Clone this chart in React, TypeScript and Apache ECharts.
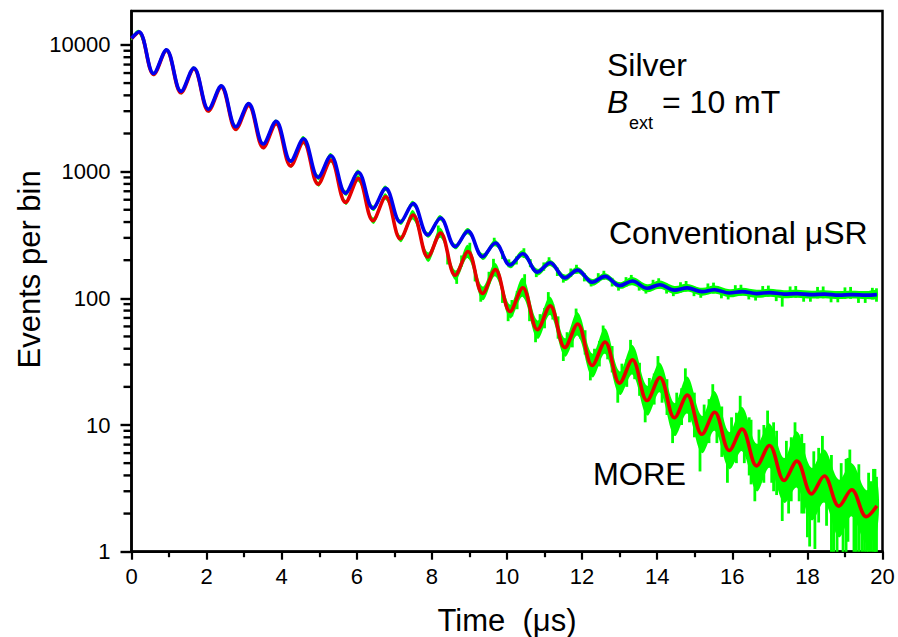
import { useEffect, useRef } from "react";
import * as echarts from "echarts";

// Times (µs) of the fitted curves: start, then alternating maxima / minima, then the last bin
const fitTimes = [
  0, 0.2, 0.59, 0.93, 1.32, 1.66, 2.05, 2.39, 2.78, 3.12, 3.51, 3.85, 4.24, 4.58, 4.97, 5.31,
  5.7, 6.04, 6.43, 6.77, 7.16, 7.5, 7.89, 8.23, 8.62, 8.96, 9.35, 9.69, 10.08, 10.42, 10.81,
  11.15, 11.54, 11.88, 12.27, 12.61, 13.0, 13.34, 13.73, 14.07, 14.46, 14.8, 15.19, 15.53,
  15.92, 16.26, 16.65, 16.99, 17.38, 17.72, 18.11, 18.45, 18.84, 19.18, 19.57, 19.85,
];

// Conventional µSR fit (events per bin)
const conventionalFit = [
  11300, 12700, 5950, 9140, 4300, 6580, 3110, 4750, 2260, 3440, 1650, 2500, 1210, 1820, 901,
  1335, 676, 988, 514, 738, 399, 559, 316, 431, 256, 339, 213, 273, 183, 225, 161, 191, 145,
  167, 134, 149, 126, 137, 120, 128, 116, 121, 113, 117, 110, 113, 109, 111, 108, 109, 107,
  108, 106, 107, 106, 107,
];

// MORE fit (events per bin)
const moreFit = [
  11200, 12590, 5840, 9030, 4190, 6480, 3006, 4648, 2157, 3334, 1547, 2392, 1110, 1716, 797,
  1231, 572, 883, 410, 634, 295, 455, 212, 327, 152, 234, 109.3, 168.5, 78.6, 121.1, 56.6,
  87.1, 40.9, 62.7, 29.5, 45.2, 21.4, 32.7, 15.6, 23.7, 11.4, 17.2, 8.45, 12.6, 6.3, 9.28,
  4.76, 6.89, 3.65, 5.19, 2.86, 3.96, 2.29, 3.08, 1.89, 2.3,
];

// Spread of the measured histograms around each fit (upper / lower edge at fitTimes)
const conventionalDataHi = [
  11640, 13080, 6130, 9410, 4430, 6780, 3200, 4890, 2330, 3540, 1700, 2575, 1245, 1911, 946,
  1402, 710, 1037, 540, 775, 419, 587, 332, 453, 269, 359, 226, 289, 194, 239, 171, 202, 154,
  177, 142, 158, 134, 147, 129, 138, 125, 130, 121, 126, 118, 121, 117, 119, 116, 117, 115,
  116, 114, 115, 114, 115,
];
const conventionalDataLo = [
  10970, 12330, 5780, 8870, 4170, 6390, 3020, 4610, 2190, 3340, 1600, 2430, 1175, 1733, 858,
  1271, 644, 941, 490, 703, 380, 532, 301, 410, 244, 320, 201, 258, 173, 212, 152, 180, 137,
  158, 126, 141, 119, 127, 112, 119, 108, 113, 105, 109, 102, 105, 101, 103, 100, 101, 99.5,
  100, 98.6, 99.5, 98.6, 99.5,
];
const moreDataHi = [
  11540, 12970, 6020, 9300, 4320, 6670, 3100, 4790, 2220, 3430, 1590, 2460, 1145, 1793, 833,
  1286, 598, 936, 435, 672, 313, 496, 231, 360, 166, 264, 124, 190, 89, 145, 66.8, 103, 48.3,
  77.7, 36.6, 58, 26.5, 42.8, 20.4, 31, 14.9, 24.1, 11.8, 18.5, 8.8, 13.9, 7.1, 10.3, 5.5, 8.9,
  4.6, 6.4, 3.7, 5.0, 3.06, 3.7,
];
const moreDataLo = [
  10870, 12220, 5670, 8770, 4070, 6290, 2920, 4510, 2090, 3240, 1500, 2320, 1075, 1642, 763,
  1178, 547, 833, 387, 598, 278, 417, 194, 300, 139, 207, 96.7, 149, 69.6, 102.6, 48, 73.8,
  34.7, 50.6, 23.8, 36.5, 17.3, 25, 11.9, 18.1, 8.2, 12.3, 6.0, 9.0, 4.5, 6.2, 3.0, 4.6, 2.43,
  3.2, 1.77, 2.44, 1.3, 1.9, 1.17, 1.42,
];

// Single-bin excursions of the histograms: [time, low, high]
const moreSpikes = [
  [8.17, 300, 375], [8.42, 185, 235], [8.66, 130, 165], [8.79, 178, 218],
  [9.01, 205, 275], [9.15, 136, 168], [9.3, 94, 118], [9.52, 130, 162],
  [9.64, 150, 205], [9.88, 92, 120], [10.03, 66, 84], [10.13, 72, 97], [10.27, 82, 114],
  [10.47, 112, 155], [10.6, 66, 90], [10.76, 45, 62], [10.88, 55, 75], [11.0, 58, 84],
  [11.1, 80, 112], [11.22, 68, 90], [11.36, 48, 72], [11.5, 32, 44], [11.6, 39, 54], [11.74, 41, 60],
  [11.84, 58, 83], [11.96, 48, 66], [12.08, 36, 56], [12.22, 22.5, 32], [12.33, 28, 40], [12.46, 29, 46],
  [12.56, 41, 61], [12.68, 33, 48], [12.8, 26, 42], [12.95, 15, 23.5], [13.06, 20, 30.5], [13.19, 20, 33],
  [13.29, 29, 47], [13.4, 23, 35], [13.53, 17, 31], [13.68, 10.5, 17], [13.79, 14.5, 23.5], [13.92, 14.5, 25.5],
  [14.02, 21, 35], [14.13, 15, 25], [14.26, 12, 23], [14.41, 7.2, 12.5], [14.52, 10.5, 18], [14.65, 10, 19.5],
  [14.75, 15, 28], [14.86, 10.5, 19], [14.99, 8, 18], [15.14, 4.3, 9.5], [15.25, 7.5, 14.5], [15.38, 7.2, 16],
  [15.48, 11, 21], [15.59, 7.2, 14], [15.72, 5.6, 14], [15.87, 3.5, 7.2], [15.98, 5.5, 11.5], [16.11, 5.0, 12.5],
  [16.21, 8, 17], [16.32, 5.0, 10.5], [16.45, 4.0, 11.5], [16.5, 3.4, 11], [16.6, 2.5, 5.5], [16.71, 4.2, 9.2], [16.84, 3.5, 10],
  [16.94, 5.8, 13], [17.05, 3.5, 7.8], [17.1, 3.0, 10.5], [17.18, 2.8, 9], [17.33, 1.75, 4.2], [17.44, 3.2, 7.5],
  [17.5, 2.0, 5.5], [17.57, 2.5, 8], [17.67, 4.3, 10.5], [17.78, 2.5, 5.9], [17.85, 2.0, 8.5], [17.91, 2.0, 7.2],
  [18.0, 1.3, 4.2], [18.06, 1.1, 3.3], [18.17, 2.5, 6.2], [18.2, 1.05, 3.0], [18.3, 1.7, 6.6],
  [18.4, 3.3, 8.2], [18.51, 1.6, 4.5], [18.64, 0.75, 5.8], [18.7, 0.7, 4.0], [18.79, 0.6, 2.8], [18.9, 1.8, 5.0],
  [18.95, 0.8, 3.8], [19.03, 0.65, 5.4], [19.08, 1.2, 5.5], [19.13, 2.2, 6.4], [19.24, 0.6, 3.7], [19.3, 0.6, 4.2],
  [19.37, 0.55, 4.9], [19.45, 0.6, 3.2], [19.52, 0.5, 2.4], [19.58, 0.6, 2.9], [19.63, 0.8, 4.2], [19.7, 0.65, 3.6],
  [19.76, 0.55, 4.5], [19.8, 0.6, 4.5], [19.84, 0.7, 3.9],
];
const conventionalSpikes = [
  [9.66, 258, 300], [9.88, 204, 235], [10.05, 176, 203], [10.25, 185, 214],
  [10.45, 208, 248], [10.62, 176, 204], [10.78, 147, 168], [10.98, 165, 192],
  [11.12, 180, 211], [11.34, 150, 175], [11.5, 133, 153], [11.7, 147, 172],
  [11.85, 156, 184], [12.06, 136, 158], [12.24, 124, 142], [12.43, 134, 158],
  [12.58, 140, 165], [12.8, 124, 145], [12.97, 115, 134], [13.17, 124, 147],
  [13.31, 128, 153], [13.52, 115, 136], [13.7, 109, 128], [13.89, 117, 140],
  [14.04, 119, 144], [14.25, 109, 130], [14.43, 104, 123], [14.62, 111, 134],
  [14.77, 113, 137], [14.98, 104, 124], [15.16, 101, 120], [15.35, 108, 131],
  [15.5, 109, 133], [15.71, 100, 120], [15.89, 98, 117], [16.08, 104, 127],
  [16.23, 105, 128], [16.44, 98, 118], [16.62, 96, 115], [16.81, 102, 125],
  [16.96, 103, 126], [17.17, 95, 116], [17.33, 86, 110], [17.54, 101, 124],
  [17.69, 101, 125], [17.9, 94, 114], [18.08, 94, 113], [18.27, 100, 123],
  [18.42, 100, 124], [18.63, 93, 114], [18.81, 93, 112], [19.0, 99, 122],
  [19.15, 99, 123], [19.36, 92, 113], [19.54, 92, 112], [19.73, 98, 121], [19.84, 94, 120],
];

// Axis ticks
const yTickValues = [1, 10, 100, 1000, 10000];
const yTickLabels = ["1", "10", "100", "1000", "10000"];
const yMinorTickValues = [
  2, 3, 4, 5, 6, 7, 8, 9, 20, 30, 40, 50, 60, 70, 80, 90, 200, 300, 400, 500, 600, 700, 800,
  900, 2000, 3000, 4000, 5000, 6000, 7000, 8000, 9000,
];

const FONT = '"Liberation Sans", Arial, Helvetica, sans-serif';
const GREEN = "#00ff00";
const RED = "#e60000";
const BLUE = "#0000ee";
const SMOOTH = 0.36;
const Y_MAX = 18530;

const pairs = (ys: number[]) => fitTimes.map((t, i) => [t, ys[i]]);

// Filled band between the lower and upper edges of a histogram, smoothed like the fits
const bandSeries = (lo: number[], hi: number[]) => ({
  type: "custom",
  clip: true,
  silent: true,
  encode: { x: 0, y: [1, 2] },
  data: fitTimes.map((t, i) => [t, lo[i], hi[i]]),
  renderItem: (params: any, api: any) => {
    if (params.dataIndex !== 0) return null;
    const upper = fitTimes.map((t, i) => api.coord([t, hi[i]]));
    const lower = fitTimes.map((t, i) => api.coord([t, lo[i]])).reverse();
    return {
      type: "polygon",
      shape: { points: upper.concat(lower), smooth: SMOOTH },
      style: { fill: GREEN, stroke: "none" },
    };
  },
});

const spikeSeries = (data: number[][]) => ({
  type: "custom",
  clip: true,
  silent: true,
  encode: { x: 0, y: [1, 2] },
  data,
  renderItem: (_params: any, api: any) => {
    const top = api.coord([api.value(0), api.value(2)]);
    const bottom = api.coord([api.value(0), api.value(1)]);
    return {
      type: "line",
      shape: { x1: top[0], y1: top[1], x2: bottom[0], y2: bottom[1] },
      style: { stroke: GREEN, lineWidth: 2.8 },
    };
  },
});

const fitSeries = (name: string, ys: number[], color: string) => ({
  type: "line",
  name,
  data: pairs(ys),
  smooth: SMOOTH,
  symbol: "none",
  lineStyle: { color, width: 3.6 },
});

const yLabel = (v: number) => {
  const i = yTickValues.findIndex((tv) => Math.abs(Math.log10(v) - Math.log10(tv)) < 1e-6);
  return i >= 0 ? yTickLabels[i] : "";
};

const text = (x: number, y: number, str: string, size: number, extra: any = {}) => ({
  type: "text",
  x,
  y,
  silent: true,
  style: {
    text: str,
    fill: "#000",
    fontSize: size,
    fontFamily: FONT,
    align: "left",
    verticalAlign: "middle",
    ...extra,
  },
});

const annotations = [
  text(607, 65, "Silver", 32),
  text(607, 101.6, "B", 32, { fontStyle: "italic" }),
  text(629, 123, "ext", 18),
  text(662, 101.6, "= 10 mT", 32),
  text(609, 232.6, "Conventional μSR", 32),
  text(593, 474.6, "MORE", 31),
];

const option = {
  animation: false,
  backgroundColor: "#ffffff",
  grid: {
    left: 131.5,
    right: 15.5,
    top: 11,
    bottom: 85.3,
    show: true,
    borderColor: "#000",
    borderWidth: 2.5,
    backgroundColor: "transparent",
    containLabel: false,
    outerBoundsMode: "none",
  },
  xAxis: {
    type: "value",
    min: 0,
    max: 20,
    interval: 2,
    name: "Time  (μs)",
    nameLocation: "middle",
    nameGap: 53,
    nameMoveOverlap: false,
    nameTextStyle: { fontSize: 31, color: "#000", fontFamily: FONT },
    axisLine: { onZero: false, lineStyle: { color: "#000", width: 2.5 } },
    axisTick: { length: 8, lineStyle: { color: "#000", width: 2.2 } },
    minorTick: { show: true, splitNumber: 2, length: 5.5, lineStyle: { color: "#000", width: 2.2 } },
    axisLabel: { fontSize: 22, color: "#000", fontFamily: FONT, margin: 14 },
    splitLine: { show: false },
    minorSplitLine: { show: false },
  },
  yAxis: {
    type: "log",
    logBase: 10,
    position: "left",
    min: 1,
    max: Y_MAX,
    name: "Events per bin",
    nameLocation: "middle",
    nameGap: 87,
    nameMoveOverlap: false,
    nameTextStyle: { fontSize: 31, color: "#000", fontFamily: FONT, padding: [0, 0, 0, 24] },
    axisLine: { onZero: false, lineStyle: { color: "#000", width: 2.5 } },
    axisTick: { length: 11, customValues: yTickValues, lineStyle: { color: "#000", width: 2.4 } },
    axisLabel: {
      fontSize: 22,
      color: "#000",
      fontFamily: FONT,
      margin: 21,
      customValues: yTickValues,
      formatter: yLabel,
    },
    splitLine: { show: false },
  },
  series: [
    bandSeries(conventionalDataLo, conventionalDataHi),
    bandSeries(moreDataLo, moreDataHi),
    spikeSeries(conventionalSpikes),
    spikeSeries(moreSpikes),
    fitSeries("MORE", moreFit, RED),
    fitSeries("Conventional μSR", conventionalFit, BLUE),
  ],
  graphic: annotations,
};

export default function App() {
  const ref = useRef<HTMLDivElement>(null);
  useEffect(() => {
    if (!ref.current) return;
    const chart = echarts.init(ref.current, undefined, { renderer: "svg" });
    chart.setOption(option as any);

    // minor ticks (2..9 per decade) placed with the y axis' own log scale
    const x0 = chart.convertToPixel({ xAxisIndex: 0 }, 0) as number;
    const minorTicks = yMinorTickValues.map((v) => {
      const y = chart.convertToPixel({ yAxisIndex: 0 }, v) as number;
      return {
        type: "line",
        silent: true,
        z: 100,
        shape: { x1: x0 - 8, y1: y, x2: x0, y2: y },
        style: { stroke: "#000", lineWidth: 2.4 },
      };
    });
    chart.setOption({ graphic: [...annotations, ...minorTicks] } as any);

    return () => chart.dispose();
  }, []);
  return (
    <div
      ref={ref}
      style={{ position: "fixed", left: 0, top: 0, width: 898, height: 637, background: "#fff" }}
    />
  );
}
